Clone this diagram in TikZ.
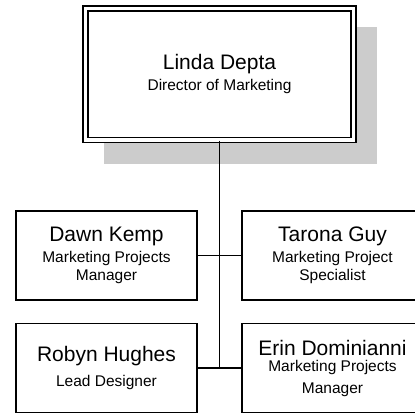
\documentclass[tikz,border=0pt]{standalone}
\usepackage{fontspec}
\setmainfont{Liberation Sans}
\usepackage{tikz}
\usetikzlibrary{backgrounds}
\definecolor{shadowgray}{HTML}{CCCCCC}
\newcommand{\namefont}{\fontsize{21}{21}\selectfont}
\newcommand{\titlefont}{\fontsize{15.5}{18}\selectfont}
% name on the first line, job title below
\newcommand{\orgtext}[3][2.5pt]{{\namefont #2}\\[#1]#3}

\begin{document}
\begin{tikzpicture}[x=1pt, y=-1pt,
    member/.style={draw, line width=1.3pt, fill=white, minimum width=181pt, minimum height=89pt, inner sep=0pt, align=center, font=\titlefont},
    boss/.style={member, double, double distance=3.7pt, minimum width=268pt, minimum height=131.5pt},
    link/.style={line width=1.3pt}]
    \useasboundingbox (0,0) rectangle (415,414);

    % Director box with its shadow
    \node[boss] (linda) at (219.5,74.25) {\orgtext{Linda Depta}{Director of Marketing}};
    \begin{scope}[on background layer]
        \fill[shadowgray] ([shift={(19,19)}]linda.north west) rectangle ([shift={(23,23)}]linda.south east);
    \end{scope}

    % Team members
    \node[member] (dawn) at (106.5,255.5) {\orgtext{Dawn Kemp}{Marketing Projects\\Manager}};
    \node[member] (tarona) at (332.5,255.5) {\orgtext{Tarona Guy}{Marketing Project\\Specialist}};
    \node[member] (robyn) at (106.5,368) {\orgtext[6.5pt]{Robyn Hughes}{Lead Designer}};
    \node[member] (erin) at (332.5,368) {\orgtext[-2pt]{Erin Dominianni}{Marketing Projects\\[4pt]Manager}};

    % Connectors
    \coordinate (hub) at (linda.south |- robyn.east);
    \draw[link] (linda.south) -- (hub);
    \draw[link] (dawn.east) -- (tarona.west);
    \draw[link] (robyn.east) -- (erin.west);
\end{tikzpicture}
\end{document}
